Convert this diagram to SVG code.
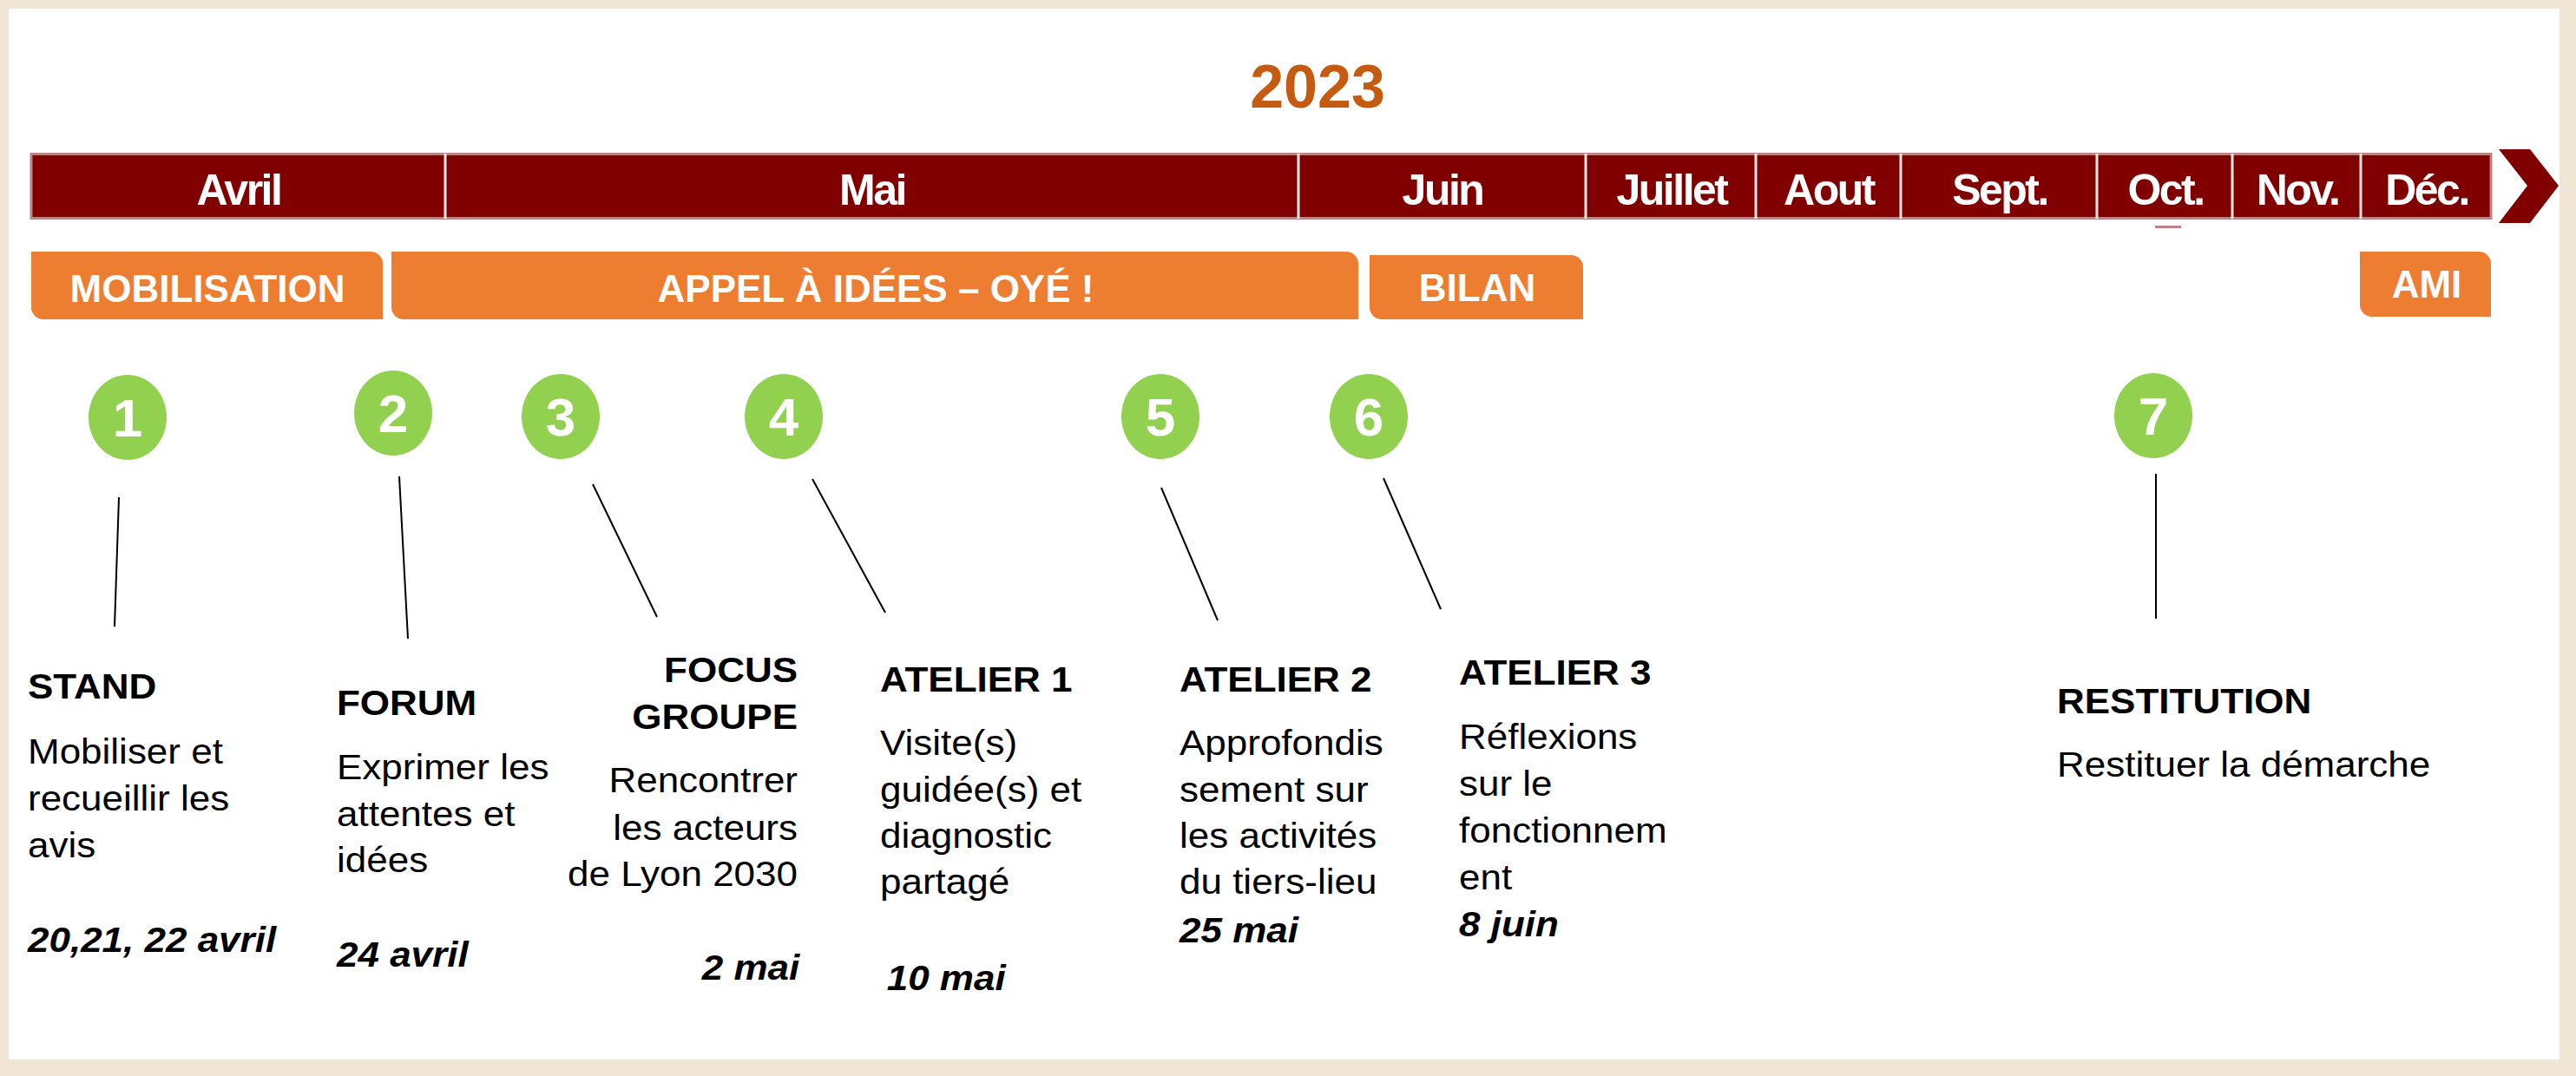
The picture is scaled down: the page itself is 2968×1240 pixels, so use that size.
<svg xmlns="http://www.w3.org/2000/svg" width="2968" height="1240" viewBox="0 0 2968 1240">
<style>
text{font-family:"Liberation Sans",Arial,sans-serif}
.mon{font-size:50px;font-weight:bold;fill:#fff;text-anchor:middle;letter-spacing:-2.5px}
.pill{fill:#ED7D31}
.pt{font-size:44px;font-weight:bold;fill:#fff;text-anchor:middle}
.circ{fill:#92D050}
.num{font-size:62px;font-weight:bold;fill:#fff;text-anchor:middle}
.hd{font-size:40px;font-weight:bold;fill:#000}
.bd{font-size:40px;fill:#000}
.dt{font-size:40px;font-weight:bold;font-style:italic;fill:#000}
.con line{stroke:#000;stroke-width:2}
.div{stroke:#F4E6E6;stroke-width:3}
</style>
<rect x="0" y="0" width="2968" height="1240" fill="#F1E5D6"/>
<rect x="10" y="10" width="2939" height="1211" fill="#fff"/>
<g id="title"><text x="1518" y="124" font-size="70" font-weight="bold" fill="#C55A11" text-anchor="middle">2023</text></g>
<g id="timeline">
<rect x="36" y="177.5" width="2834" height="74" fill="#800000" stroke="#C08282" stroke-width="3"/>
<line class="div" x1="513" y1="177" x2="513" y2="252"/>
<line class="div" x1="1496" y1="177" x2="1496" y2="252"/>
<line class="div" x1="1827" y1="177" x2="1827" y2="252"/>
<line class="div" x1="2023" y1="177" x2="2023" y2="252"/>
<line class="div" x1="2190" y1="177" x2="2190" y2="252"/>
<line class="div" x1="2416" y1="177" x2="2416" y2="252"/>
<line class="div" x1="2572" y1="177" x2="2572" y2="252"/>
<line class="div" x1="2720" y1="177" x2="2720" y2="252"/>
<polygon points="2879,172 2915,172 2948,214 2915,257 2879,257 2912,214" fill="#800000"/>
<rect x="2483" y="260" width="30" height="3" fill="#C08080"/>
<text class="mon" x="275" y="236">Avril</text>
<text class="mon" x="1005" y="236">Mai</text>
<text class="mon" x="1662" y="236">Juin</text>
<text class="mon" x="1926" y="236">Juillet</text>
<text class="mon" x="2107" y="236">Aout</text>
<text class="mon" x="2304" y="236">Sept.</text>
<text class="mon" x="2495" y="236">Oct.</text>
<text class="mon" x="2647" y="236">Nov.</text>
<text class="mon" x="2796" y="236">Déc.</text>
</g>
<g id="phase-mobilisation"><path class="pill" d="M36,290 H427 A14,14 0 0 1 441,304 V368 H50 A14,14 0 0 1 36,354 Z"/><text class="pt" x="239" y="348">MOBILISATION</text></g>
<g id="phase-appel"><path class="pill" d="M451,290 H1551 A14,14 0 0 1 1565,304 V368 H465 A14,14 0 0 1 451,354 Z"/><text class="pt" x="1009" y="348">APPEL À IDÉES – OYÉ !</text></g>
<g id="phase-bilan"><path class="pill" d="M1578,294 H1810 A14,14 0 0 1 1824,308 V368 H1592 A14,14 0 0 1 1578,354 Z"/><text class="pt" x="1702" y="347">BILAN</text></g>
<g id="phase-ami"><path class="pill" d="M2719,290 H2856 A14,14 0 0 1 2870,304 V365 H2733 A14,14 0 0 1 2719,351 Z"/><text class="pt" x="2796" y="343">AMI</text></g>
<g id="marker1"><ellipse class="circ" cx="147" cy="481" rx="45" ry="49"/><text class="num" x="147" y="503">1</text></g>
<g id="marker2"><ellipse class="circ" cx="453" cy="476" rx="45" ry="49"/><text class="num" x="453" y="498">2</text></g>
<g id="marker3"><ellipse class="circ" cx="646" cy="480" rx="45" ry="49"/><text class="num" x="646" y="502">3</text></g>
<g id="marker4"><ellipse class="circ" cx="903" cy="480" rx="45" ry="49"/><text class="num" x="903" y="502">4</text></g>
<g id="marker5"><ellipse class="circ" cx="1337" cy="480" rx="45" ry="49"/><text class="num" x="1337" y="502">5</text></g>
<g id="marker6"><ellipse class="circ" cx="1577" cy="480" rx="45" ry="49"/><text class="num" x="1577" y="502">6</text></g>
<g id="marker7"><ellipse class="circ" cx="2481" cy="479" rx="45" ry="49"/><text class="num" x="2481" y="501">7</text></g>
<g id="connectors" class="con">
<line x1="137" y1="573" x2="132" y2="722"/>
<line x1="460" y1="549" x2="470" y2="736"/>
<line x1="683" y1="558" x2="757" y2="711"/>
<line x1="936" y1="552" x2="1020" y2="706"/>
<line x1="1338" y1="562" x2="1403" y2="715"/>
<line x1="1594" y1="551" x2="1660" y2="702"/>
<line x1="2484" y1="546" x2="2484" y2="713"/>
</g>
<g id="step-stand" transform="translate(32,0) scale(1.1,1)">
<text class="hd" x="0" y="805">STAND</text>
<text class="bd" x="0" y="880">Mobiliser et</text>
<text class="bd" x="0" y="934">recueillir les</text>
<text class="bd" x="0" y="988">avis</text>
<text class="dt" x="0" y="1097">20,21, 22 avril</text>
</g>
<g id="step-forum" transform="translate(388,0) scale(1.1,1)">
<text class="hd" x="0" y="824">FORUM</text>
<text class="bd" x="0" y="898">Exprimer les</text>
<text class="bd" x="0" y="952">attentes et</text>
<text class="bd" x="0" y="1005">idées</text>
<text class="dt" x="0" y="1114">24 avril</text>
</g>
<g id="step-focus" transform="translate(919,0) scale(1.1,1)" text-anchor="end">
<text class="hd" x="0" y="786">FOCUS</text>
<text class="hd" x="0" y="840">GROUPE</text>
<text class="bd" x="0" y="913">Rencontrer</text>
<text class="bd" x="0" y="968">les acteurs</text>
<text class="bd" x="0" y="1021">de Lyon 2030</text>
<text class="dt" x="2" y="1129">2 mai</text>
</g>
<g id="step-atelier1" transform="translate(1014,0) scale(1.1,1)">
<text class="hd" x="0" y="797">ATELIER 1</text>
<text class="bd" x="0" y="870">Visite(s)</text>
<text class="bd" x="0" y="924">guidée(s) et</text>
<text class="bd" x="0" y="977">diagnostic</text>
<text class="bd" x="0" y="1030">partagé</text>
<text class="dt" x="7" y="1141">10 mai</text>
</g>
<g id="step-atelier2" transform="translate(1359,0) scale(1.1,1)">
<text class="hd" x="0" y="797">ATELIER 2</text>
<text class="bd" x="0" y="870">Approfondis</text>
<text class="bd" x="0" y="924">sement sur</text>
<text class="bd" x="0" y="977">les activités</text>
<text class="bd" x="0" y="1030">du tiers-lieu</text>
<text class="dt" x="0" y="1086">25 mai</text>
</g>
<g id="step-atelier3" transform="translate(1681,0) scale(1.1,1)">
<text class="hd" x="0" y="789">ATELIER 3</text>
<text class="bd" x="0" y="863">Réflexions</text>
<text class="bd" x="0" y="917">sur le</text>
<text class="bd" x="0" y="971">fonctionnem</text>
<text class="bd" x="0" y="1025">ent</text>
<text class="dt" x="0" y="1079">8 juin</text>
</g>
<g id="step-restitution" transform="translate(2370,0) scale(1.1,1)">
<text class="hd" x="0" y="822">RESTITUTION</text>
<text class="bd" x="0" y="895">Restituer la démarche</text>
</g>
</svg>
